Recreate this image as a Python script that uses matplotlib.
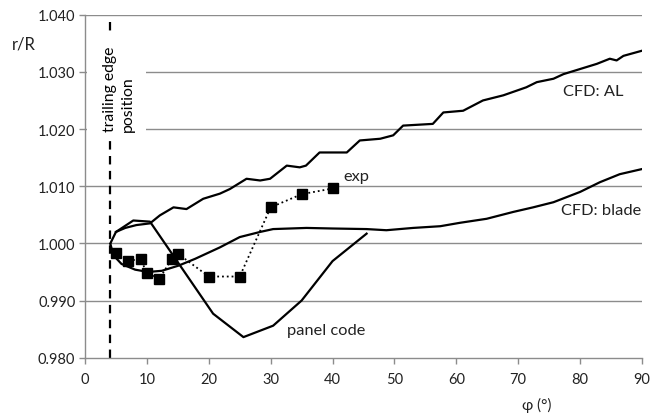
import matplotlib
matplotlib.use("Agg")
import matplotlib.pyplot as plt
from matplotlib.patches import Rectangle

plt.rcParams['font.family'] = ['Lato', 'DejaVu Sans']

# CFD: AL
al_x = [4.1, 5.0, 6.5, 8.3, 10.5, 12.1, 14.3, 16.4, 19.1, 21.8, 23.4, 26.1, 28.3, 29.9, 32.6,
        34.7, 35.7, 37.9, 40.6, 42.3, 44.4, 47.7, 49.8, 51.4, 56.2, 57.9, 61.1, 64.3, 67.6,
        71.3, 73.0, 75.7, 77.3, 80.0, 82.7, 84.8, 85.9, 87.0, 90.0]
al_y = [1.0000, 1.0020, 1.0027, 1.0032, 1.0035, 1.0049, 1.0063, 1.0060, 1.0078, 1.0087, 1.0095,
        1.0113, 1.0110, 1.0113, 1.0136, 1.0133, 1.0136, 1.0159, 1.0159, 1.0159, 1.0180, 1.0183,
        1.0189, 1.0206, 1.0209, 1.0229, 1.0232, 1.0250, 1.0259, 1.0273, 1.0282, 1.0288, 1.0296,
        1.0305, 1.0314, 1.0323, 1.0320, 1.0328, 1.0337]

# CFD: blade
bl_x = [4.1, 4.6, 5.9, 8.1, 10.2, 12.4, 15.1, 17.8, 21.8, 25.0, 28.3, 30.4, 35.8, 40.0, 45.5,
        48.7, 53.0, 57.4, 60.6, 64.9, 69.2, 72.4, 75.7, 80.0, 83.2, 86.4, 90.0]
bl_y = [0.9999, 0.9979, 0.9964, 0.9954, 0.9950, 0.9952, 0.9961, 0.9973, 0.9993, 1.0011, 1.0020,
        1.0025, 1.0027, 1.0026, 1.0025, 1.0023, 1.0027, 1.0030, 1.0036, 1.0043, 1.0055, 1.0063,
        1.0072, 1.0090, 1.0107, 1.0121, 1.0130]

# panel code
pc_x = [5.0, 7.8, 10.5, 20.7, 25.6, 30.4, 35.0, 40.0, 45.5]
pc_y = [1.0020, 1.0040, 1.0038, 0.9877, 0.9836, 0.9856, 0.9900, 0.9969, 1.0017]

# exp
ex_x = [5, 7, 9, 10, 12, 14, 15, 20, 25, 30, 35, 40]
ex_y = [0.9983, 0.9970, 0.9972, 0.9948, 0.9938, 0.9972, 0.9982, 0.9942, 0.9942, 1.0063, 1.0086, 1.0096]

x_ticks = [0, 10, 20, 30, 40, 50, 60, 70, 80, 90]
y_ticks = [0.980, 0.990, 1.000, 1.010, 1.020, 1.030, 1.040]

W, H = 662, 414
fig = plt.figure(figsize=(W / 100, H / 100), dpi=100)
ax = fig.add_axes([85 / W, (H - 358.7) / H, (642 - 85) / W, (358.7 - 15.7) / H])

ax.set_xlim(0, 90)
ax.set_ylim(0.980, 1.040)
ax.set_xticks(x_ticks)
ax.set_yticks(y_ticks)
ax.set_yticklabels([f"{v:.3f}" for v in y_ticks])

for v in y_ticks[1:]:
    ax.axhline(v, color='#8c8c8c', lw=1.0, zorder=1)

for s in ['top', 'right']:
    ax.spines[s].set_visible(False)
for s in ['left', 'bottom']:
    ax.spines[s].set_color('#8c8c8c')
    ax.spines[s].set_linewidth(1.0)
    ax.spines[s].set_zorder(6)
ax.tick_params(axis='both', colors='#8c8c8c', labelcolor='#222222', labelsize=10.5,
               length=4, width=1.0, direction='out')
ax.tick_params(axis='x', pad=6)
ax.tick_params(axis='y', pad=3)

lw = 1.6
ax.plot(al_x, al_y, color='black', lw=lw, zorder=3)
ax.plot(bl_x, bl_y, color='black', lw=lw, zorder=3)
ax.plot(pc_x, pc_y, color='black', lw=lw, zorder=3)
ax.plot(ex_x, ex_y, color='black', lw=1.3, ls=':', marker='s', markersize=6.5, zorder=4)

# trailing edge line
ax.plot([4, 4], [0.980, 1.0393], color='black', lw=1.6, dashes=(3.8, 2.9), zorder=3)

# white box behind text
ax.add_patch(Rectangle((0.25, 1.0183), 9.6, 1.0366 - 1.0183, facecolor='white',
                       edgecolor='none', zorder=5))
ax.text(4.05, 1.0197, "trailing edge", rotation=90, ha='center', va='bottom',
        fontsize=11.3, color='black', zorder=6)
ax.text(6.95, 1.0197, "position", rotation=90, ha='center', va='bottom',
        fontsize=11.3, color='black', zorder=6)

lab_fs = 11.8
ax.text(82.1, 1.0267, "CFD: AL", ha='center', va='center', fontsize=lab_fs, color='#222222')
ax.text(43.8, 1.0118, "exp", ha='center', va='center', fontsize=lab_fs, color='#222222')
ax.text(83.4, 1.0059, "CFD: blade", ha='center', va='center', fontsize=lab_fs, color='#222222')
ax.text(38.9, 0.9849, "panel code", ha='center', va='center', fontsize=lab_fs, color='#222222')

fig.text(23.5 / W, 1 - 44 / H, "r/R", ha='center', va='center', fontsize=12, color='#222222')
fig.text(537 / W, 1 - 405 / H, "φ (°)", ha='center', va='center', fontsize=11, color='#222222')

fig.savefig("out.png", dpi=100)
